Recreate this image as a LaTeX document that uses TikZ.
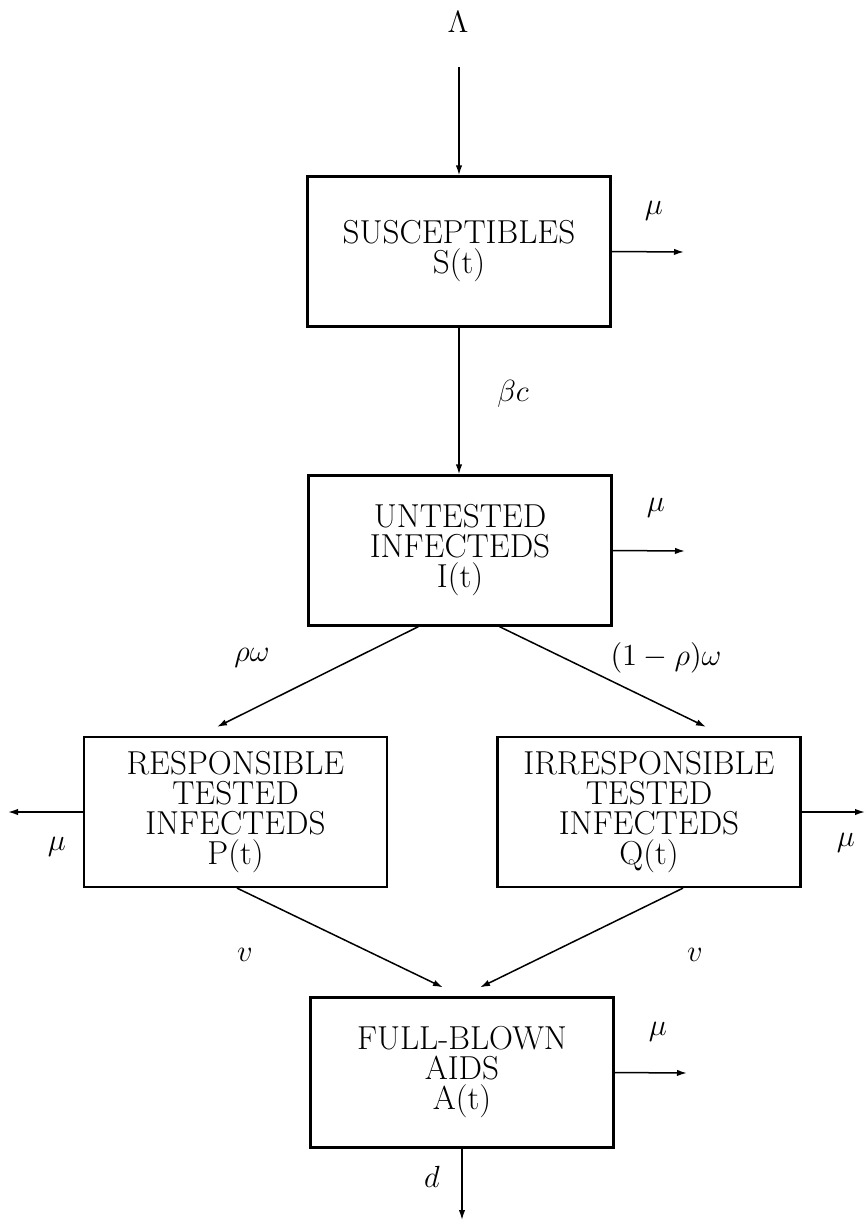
\RequirePackage{fix-cm}
\documentclass[tikz,border=0pt]{standalone}
\usetikzlibrary{arrows.meta,calc}
\begin{document}
\begin{tikzpicture}[x=0.5pt,y=-0.5pt,
  box/.style={draw,line width=1.1pt,minimum width=151.5pt,minimum height=75pt,align=center,inner sep=0pt,font=\fontsize{16.6}{15}\selectfont},
  flow/.style={-{Latex[length=5pt,width=3.2pt]},line width=0.75pt},
  lab/.style={font=\fontsize{15.3}{15}\selectfont,inner sep=0pt}]
\useasboundingbox (0,0) rectangle (866,1222);
% boxes
\node[box] (S) at (459,251.5) {SUSCEPTIBLES\\S(t)};
\node[box] (U) at (460,550.5) {UNTESTED\\INFECTEDS\\I(t)};
\node[box] (P) at (235.5,812) {RESPONSIBLE\\TESTED\\INFECTEDS\\P(t)};
\node[box] (Q) at (649,812) {IRRESPONSIBLE\\TESTED\\INFECTEDS\\Q(t)};
\node[box] (A) at (462,1072.5) {FULL-BLOWN\\AIDS\\A(t)};
% labels
\node[lab] (Lam) at (458,22) {$\Lambda$};
\node[lab] (m1) at (654,211) {$\mu$};
\node[lab] (bc) at (513,394) {$\beta c$};
\node[lab] (m2) at (656,508) {$\mu$};
\node[lab] (rw) at (252,658) {$\rho\omega$};
\node[lab] (orw) at (666,658) {$(1-\rho)\omega$};
\node[lab] (m3) at (57,847) {$\mu$};
\node[lab] (m4) at (846,843) {$\mu$};
\node[lab] (v1) at (245,955) {$v$};
\node[lab] (v2) at (695,955) {$v$};
\node[lab] (m5) at (658,1032) {$\mu$};
\node[lab] (dd) at (432,1177) {$d$};
% coordinates
\coordinate (lamEnd) at (459,67);
\coordinate (mu1end) at (684,252);
\coordinate (mu2end) at (685,551);
\coordinate (up) at ($(U.south west)+(111,0)$);
\coordinate (uq) at ($(U.south west)+(192,0)$);
\coordinate (pin) at ($(P.north)+(-18.5,-9)$);
\coordinate (qin) at ($(Q.north)+(57,-9)$);
\coordinate (pleft) at (8,812);
\coordinate (qright) at (865,812);
\coordinate (pa) at ($(P.south)+(1.5,0)$);
\coordinate (qa) at ($(Q.south)+(34,0)$);
\coordinate (ain1) at ($(A.north)+(-19,-9)$);
\coordinate (ain2) at ($(A.north)+(18,-9)$);
\coordinate (mu5end) at (687,1073);
\coordinate (dend) at (462,1220);
% connectors
\draw[flow] (lamEnd) -- (S.north);
\draw[flow] (S.east) -- (mu1end);
\draw[flow] (S.south) -- (S.south |- U.north);
\draw[flow] (U.east) -- (mu2end);
\draw[flow] (up) -- (pin);
\draw[flow] (uq) -- (qin);
\draw[flow] (P.west) -- (pleft);
\draw[flow] (Q.east) -- (qright);
\draw[flow] (pa) -- (ain1);
\draw[flow] (qa) -- (ain2);
\draw[flow] (A.east) -- (mu5end);
\draw[flow] (A.south) -- (dend);
\end{tikzpicture}
\end{document}
